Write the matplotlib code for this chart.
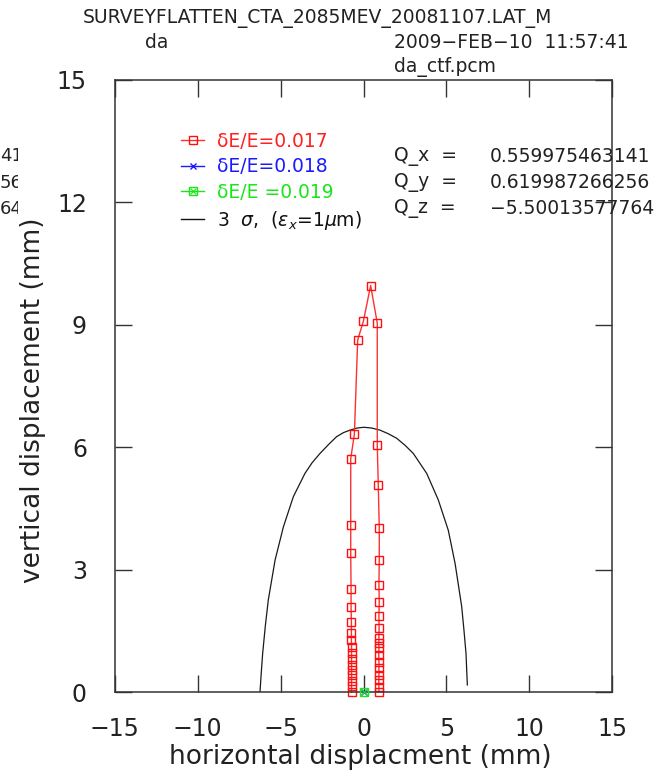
import matplotlib
matplotlib.use("Agg")
import matplotlib.pyplot as plt
from matplotlib.lines import Line2D
from matplotlib.legend_handler import HandlerTuple
from matplotlib.transforms import Bbox, TransformedBbox

# dynamic aperture, dE/E = 0.017 (right side up, peak, left side down)
red_x = [0.93, 0.93, 0.92, 0.93, 0.93, 0.93, 0.92, 0.93, 0.92, 0.93,
         0.94, 0.93, 0.95, 0.93, 0.95, 0.95, 0.89, 0.83, 0.83,
         0.43,
         -0.01, -0.35, -0.55, -0.77, -0.77, -0.77, -0.75, -0.75, -0.73, -0.73,
         -0.73, -0.72, -0.72, -0.72, -0.72, -0.72, -0.72, -0.72, -0.72, -0.72]
red_y = [0.00, 0.14, 0.30, 0.42, 0.59, 0.75, 0.91, 1.08, 1.20, 1.32,
         1.58, 1.86, 2.21, 2.63, 3.24, 4.03, 5.07, 6.06, 9.04,
         9.96,
         9.08, 8.63, 6.32, 5.72, 4.10, 3.40, 2.52, 2.10, 1.71, 1.45,
         1.29, 1.12, 0.96, 0.82, 0.68, 0.55, 0.42, 0.28, 0.15, 0.00]

# dE/E = 0.018 and 0.019 collapse to the origin
blue_x = [0.0]
blue_y = [0.0]
green_x = [0.03]
green_y = [0.0]

# 3 sigma envelope
sig_x = [-6.24, -6.16, -6.08, -5.92, -5.74, -5.33, -4.83, -4.23, -3.53, -3.10,
         -2.62, -2.10, -1.62, -1.20, -0.81, -0.40, 0.03, 0.50, 0.99, 1.50,
         2.00, 2.50, 3.00, 3.81, 4.51, 5.11, 5.52, 5.92, 6.05, 6.18, 6.26]
sig_y = [0.01, 0.50, 0.95, 1.62, 2.26, 3.24, 4.05, 4.79, 5.36, 5.62,
         5.85, 6.07, 6.26, 6.36, 6.42, 6.47, 6.49, 6.47, 6.42, 6.33,
         6.22, 6.05, 5.85, 5.36, 4.71, 3.97, 3.16, 2.10, 1.55, 0.95, 0.18]

labels = ["δE/E=0.017", "δE/E=0.018", "δE/E =0.019",
          r"3  $\sigma$,  ($\epsilon_x$=1$\mu$m)"]
label_colors = ["#ff2020", "#1a1aff", "#19e619", "#111111"]
q_names = ["Q_x  =", "Q_y  =", "Q_z  ="]
q_values = ["0.559975463141", "0.619987266256", "\u22125.50013577764"]
q_tails = ["41", "56", "64"]

xticks = [-15, -10, -5, 0, 5, 10, 15]
yticks = [0, 3, 6, 9, 12, 15]

W, H = 654, 774
fig = plt.figure(figsize=(W / 100, H / 100), dpi=100)
ax = fig.add_axes([114.7 / W, 1 - 692.3 / H, 497.6 / W, 612.6 / H])

txt = "#222222"
ax.plot(sig_x, sig_y, color="#1a1a1a", lw=0.9)
red, = ax.plot(red_x, red_y, color="#ff3030", lw=1.0, marker="s", ms=5.5,
               mfc="none", mec="#ff1010", mew=1.0, clip_on=False)
blue, = ax.plot(blue_x, blue_y, color="#1a1aff", lw=1.0, marker="x", ms=5,
                clip_on=False, zorder=3)
green_sq, = ax.plot(green_x, green_y, color="#19e619", lw=1.0, marker="s",
                    ms=5.5, mfc="none", mew=1.0, clip_on=False, zorder=4)
green_x_mk, = ax.plot(green_x, green_y, color="#19e619", lw=0, marker="x",
                      ms=4, mew=0.8, clip_on=False, zorder=4)
env = Line2D([], [], color="#111111", lw=1.0)

ax.set_xlim(-15, 15)
ax.set_ylim(0, 15)
ax.set_xticks(xticks)
ax.set_yticks(yticks)
ax.set_xticklabels([f"{v:d}".replace("-", "\u2212") for v in xticks])
ax.tick_params(direction="in", length=12, width=1.0, color="#333333",
               top=True, right=True, labelsize=17, labelcolor=txt)
ax.tick_params(axis="x", pad=18)
ax.tick_params(axis="y", pad=20)
for s in ax.spines.values():
    s.set_color("#333333")
    s.set_linewidth(1.1)

leg = ax.legend([red, blue, (green_sq, green_x_mk), env], labels,
                handler_map={tuple: HandlerTuple(ndivide=1)},
                loc="upper left", bbox_to_anchor=(0.133, 0.9154),
                frameon=False, fontsize=13.5, handlelength=1.25,
                handletextpad=0.7, labelspacing=0.36, borderpad=0,
                borderaxespad=0)
for t, c in zip(leg.get_texts(), label_colors):
    t.set_color(c)

# header texts
fig.text(317.5 / W, 1 - 18 / H, "SURVEYFLATTEN_CTA_2085MEV_20081107.LAT_M",
         ha="center", va="center", fontsize=13.5, color=txt)
fig.text(145 / W, 1 - 42 / H, "da", ha="left", va="center", fontsize=13.5,
         color=txt)
fig.text(394 / W, 1 - 42 / H, "2009\u2212FEB\u221210  11:57:41", ha="left",
         va="center", fontsize=13.5, color=txt)
fig.text(394 / W, 1 - 67 / H, "da_ctf.pcm", ha="left", va="center",
         fontsize=13.5, color=txt)

# tunes, with the wrapped tails clipped at the left edge
clip = TransformedBbox(Bbox([[0, 0], [18 / W, 1]]), fig.transFigure)
for i, (nm, val, tail) in enumerate(zip(q_names, q_values, q_tails)):
    yy = 1 - (156 + 26.5 * i) / H
    fig.text(394 / W, yy, nm, ha="left", va="center", fontsize=13.5, color=txt)
    fig.text(490 / W, yy, val, ha="left", va="center", fontsize=13.5, color=txt)
    t = fig.text(0, yy, tail, ha="left", va="center", fontsize=13, color=txt)
    t.set_clip_box(clip)
    t.set_clip_on(True)

fig.text(360 / W, 1 - 757 / H, "horizontal displacment (mm)", ha="center",
         va="center", fontsize=19, color=txt)
fig.text(33 / W, 1 - 400 / H, "vertical displacement (mm)", ha="center",
         va="center", rotation=90, fontsize=19, color=txt)

fig.savefig("out.png", dpi=100, facecolor="white")
